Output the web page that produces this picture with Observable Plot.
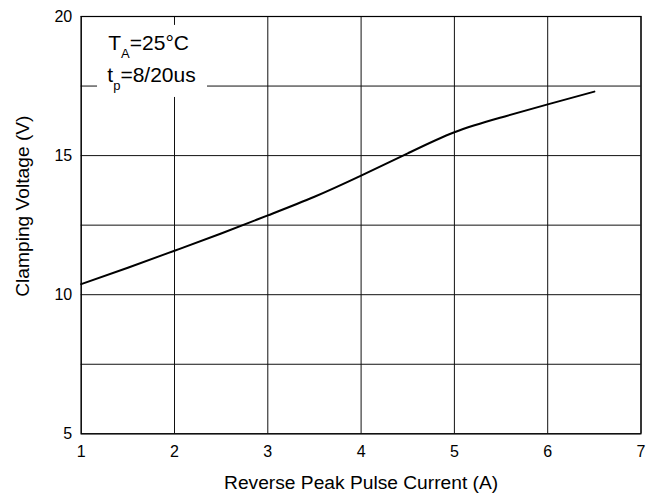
<!DOCTYPE html>
<html>
<head>
<meta charset="utf-8">
<script src="https://cdn.jsdelivr.net/npm/d3@7"></script>
<script src="https://cdn.jsdelivr.net/npm/@observablehq/plot@0.6"></script>
<style>
  html, body { margin: 0; padding: 0; background: #fff; }
  svg { font-family: "Liberation Sans", Arial, sans-serif; }
</style>
</head>
<body>
<div id="chart"></div>
<script>
// Data
const current = [1, 1.5, 2, 2.5, 3, 3.5, 4, 4.5, 5, 5.5, 6, 6.5];
const voltage = [10.38, 10.97, 11.58, 12.2, 12.85, 13.52, 14.28, 15.08, 15.84, 16.37, 16.84, 17.3];
const xTicks = [1, 2, 3, 4, 5, 6, 7];
const yTicks = [5, 10, 15, 20];
const yGrid = [5, 7.5, 10, 12.5, 15, 17.5, 20];
const xTitle = "Reverse Peak Pulse Current (A)";
const yTitle = "Clamping Voltage (V)";
const annMain = ["T", "t"];
const annSub = ["A", "p"];
const annRest = ["=25°C", "=8/20us"];
const annX = [1.29, 1.28];
const annY = [18.78, 17.64];

const data = current.map((c, i) => ({c, v: voltage[i]}));
const ann = annMain.map((m, i) => ({m, s: annSub[i], r: annRest[i], x: annX[i], y: annY[i]}));

const chart = Plot.plot({
  width: 654,
  height: 499,
  marginLeft: 80.7,
  marginRight: 13.5,
  marginTop: 16,
  marginBottom: 65.7,
  style: {fontFamily: "'Liberation Sans', Arial, sans-serif", fontSize: "16px", background: "#fff"},
  x: {domain: [1, 7]},
  y: {domain: [5, 20]},
  marks: [
    Plot.gridX(xTicks, {stroke: "#111", strokeOpacity: 1, strokeWidth: 1}),
    Plot.gridY(yGrid, {stroke: "#111", strokeOpacity: 1, strokeWidth: 1}),
    Plot.rect([0], {x1: 1.175, x2: 2.354, y1: 17.09, y2: 19.68, fill: "#fff"}),
    Plot.frame({stroke: "#000", strokeWidth: 1.2}),
    Plot.axisX(xTicks, {tickSize: 0, tickPadding: 11.5, fontSize: 16, label: null, fill: "#000"}),
    Plot.axisY(yTicks, {tickSize: 0, tickPadding: 9, fontSize: 16, label: null, fill: "#000"}),
    Plot.line(data, {x: "c", y: "v", curve: "natural", stroke: "#000", strokeWidth: 2}),
    Plot.text(ann, {x: "x", y: "y", text: d => d.m + "|" + d.s + "|" + d.r, textAnchor: "start", lineAnchor: "bottom", fontSize: 21, fill: "#000"}),
    Plot.text([xTitle], {frameAnchor: "bottom", textAnchor: "middle", lineAnchor: "middle", dy: 49, fontSize: 19.2, fill: "#000", text: d => d}),
    Plot.text([yTitle], {frameAnchor: "left", textAnchor: "middle", lineAnchor: "middle", dx: -58.5, dy: -19, rotate: -90, fontSize: 19.2, fill: "#000", text: d => d})
  ]
});

document.getElementById("chart").appendChild(chart);

// Split annotation into main / subscript / rest tspans
d3.select(chart).selectAll("text").each(function() {
  if (this.childElementCount > 0 || !this.textContent.includes("|")) return;
  const parts = this.textContent.split("|");
  const t = d3.select(this);
  t.text(null);
  t.append("tspan").text(parts[0]);
  t.append("tspan").attr("font-size", 13).attr("dy", 7.5).text(parts[1]);
  t.append("tspan").attr("dy", -7.5).text(parts[2]);
});
</script>
</body>
</html>
